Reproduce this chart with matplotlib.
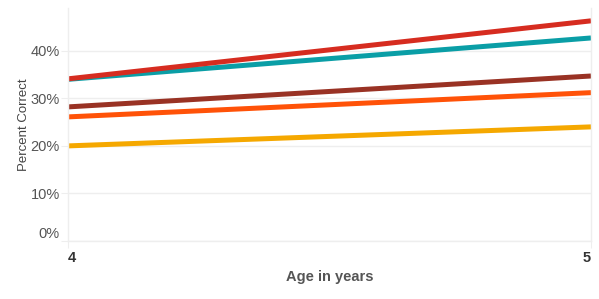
import numpy as np
import matplotlib
matplotlib.use("Agg")
import matplotlib.pyplot as plt
import matplotlib.transforms as mtransforms
from matplotlib.ticker import FuncFormatter

plt.rcParams['font.family'] = ['Liberation Sans', 'DejaVu Sans']

ages = [4, 5]
red = [34.1, 46.3]
teal = [34.0, 42.7]
brown = [28.2, 34.7]
orange = [26.1, 31.2]
yellow = [20.0, 24.0]
yticks = [0, 10, 20, 30, 40]

fig = plt.figure(figsize=(5.99, 2.99), dpi=100)
ax = fig.add_axes([68/599, 1-241/299, (591-68)/599, (241-8)/299])

ax.plot(ages, yellow, color='#f5a800', lw=3.6, solid_capstyle='butt')
ax.plot(ages, orange, color='#ff5208', lw=3.6, solid_capstyle='butt')
ax.plot(ages, brown, color='#993224', lw=3.6, solid_capstyle='butt')
ax.plot(ages, teal, color='#0a9ea6', lw=3.6, solid_capstyle='butt')
ax.plot(ages, red, color='#d62c20', lw=3.6, solid_capstyle='butt')

ax.set_xlim(4, 5)
ax.set_ylim(0, 49)
ax.set_yticks(yticks)
ax.yaxis.set_major_formatter(FuncFormatter(lambda v, p: '%d%%' % v))
ax.set_xticks(ages)
ax.grid(axis='y', color='#eeeeee', lw=1)
ax.set_axisbelow(True)

ax.spines['top'].set_visible(False)
for s in ['left', 'right', 'bottom']:
    ax.spines[s].set_color('#eeeeee')
    ax.spines[s].set_linewidth(1)

ax.tick_params(axis='y', length=5, color='#eeeeee', labelsize=10.5, labelcolor='#555555', pad=1)
ax.tick_params(axis='x', length=5, color='#eeeeee', labelsize=10.5, labelcolor='#333333', pad=2)

for t in ax.get_xticklabels():
    t.set_fontweight('bold')
xl = ax.get_xticklabels()
xl[0].set_ha('left')
xl[-1].set_ha('right')

# first y label sits a bit above its line
yl = ax.get_yticklabels()
yl[0].set_transform(yl[0].get_transform() + mtransforms.ScaledTranslation(0, 9/100, fig.dpi_scale_trans))

ax.set_xlabel('Age in years', fontsize=10.5, fontweight='bold', color='#555555', labelpad=4)
ax.set_ylabel('Percent Correct', fontsize=9.5, color='#444444', labelpad=0)

fig.savefig('out.png', dpi=100)
